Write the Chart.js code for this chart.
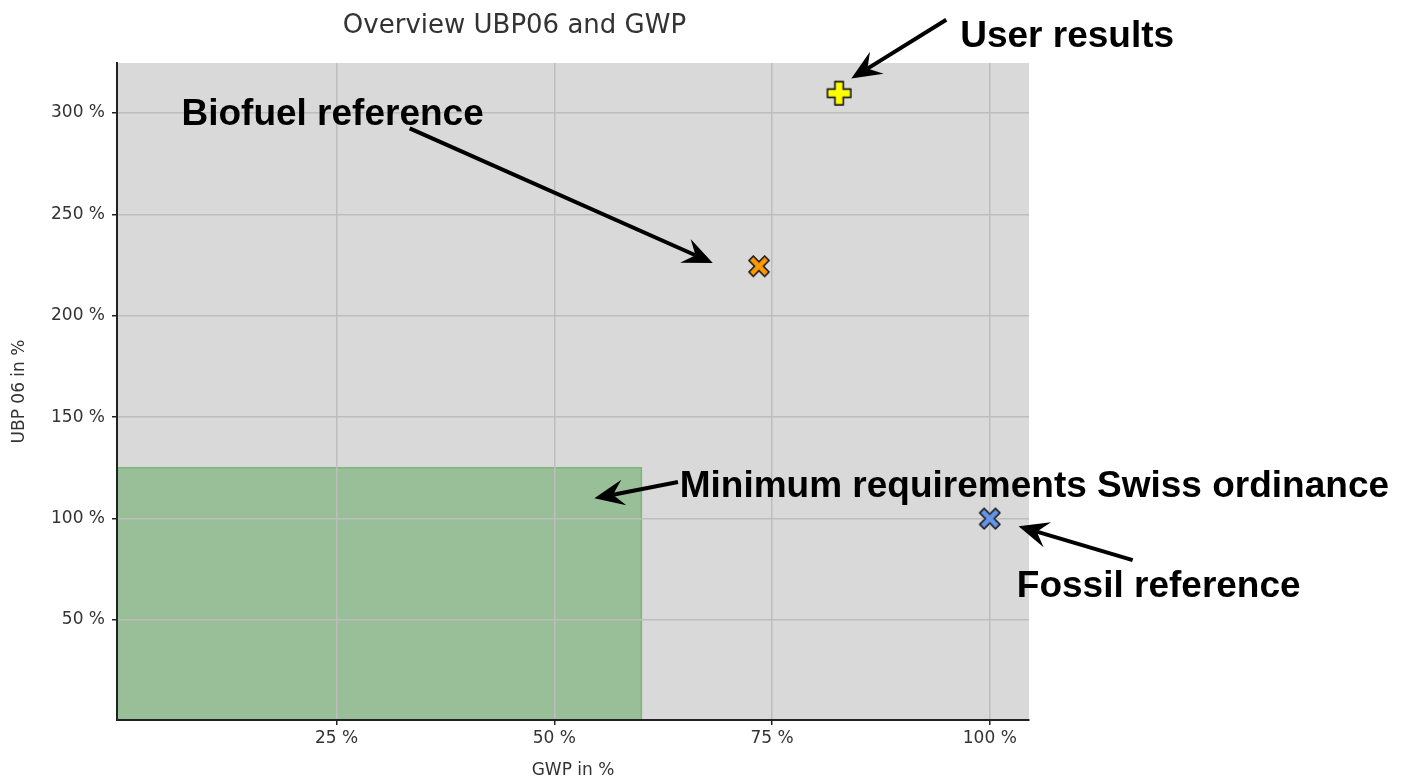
<!DOCTYPE html>
<html>
<head>
<meta charset="utf-8">
<script src="https://cdn.jsdelivr.net/npm/chart.js@4/dist/chart.umd.min.js"></script>
<style>
  html, body { margin: 0; padding: 0; background: #fff; }
</style>
</head>
<body>
<canvas id="myChart" width="1404" height="779"></canvas>
<script>
// axis ticks (percent)
const gwpTicks = [25, 50, 75, 100];
const ubpTicks = [50, 100, 150, 200, 250, 300];

// points: GWP (x) and UBP06 (y), in %
const pointNames = ['User results', 'Biofuel reference', 'Fossil reference'];
const gwpValues = [82.7, 73.5, 100];
const ubpValues = [309.7, 224.4, 100];

// minimum requirements of the Swiss ordinance (area below these limits)
const minGwp = 60;
const minUbp = 125;

// callouts, in data units (text baseline start, arrow tail, arrow tip)
const noteText = ['User results', 'Biofuel reference', 'Minimum requirements Swiss ordinance', 'Fossil reference'];
const noteAt = [[96.6, 332.7], [7.2, 293.9], [64.4, 110.6], [103.1, 61.3]];
const arrowFrom = [[95.0, 345.9], [33.4, 292.4], [64.2, 118.0], [116.4, 79.5]];
const arrowTo = [[84.1, 316.9], [68.2, 226.0], [54.6, 110.0], [103.3, 96.2]];

function marker(fill, size, thick, rotate) {
  const c = document.createElement('canvas');
  c.width = c.height = size + 6;
  const ctx = c.getContext('2d');
  ctx.translate(c.width / 2, c.height / 2);
  if (rotate) ctx.rotate(Math.PI / 4);
  const h = size / 2, t = thick / 2;
  ctx.beginPath();
  ctx.moveTo(-t, -h); ctx.lineTo(t, -h); ctx.lineTo(t, -t); ctx.lineTo(h, -t);
  ctx.lineTo(h, t); ctx.lineTo(t, t); ctx.lineTo(t, h); ctx.lineTo(-t, h);
  ctx.lineTo(-t, t); ctx.lineTo(-h, t); ctx.lineTo(-h, -t); ctx.lineTo(-t, -t);
  ctx.closePath();
  ctx.fillStyle = fill;
  ctx.fill();
  ctx.lineWidth = 1.4;
  ctx.strokeStyle = '#222';
  ctx.stroke();
  return c;
}

const markers = [
  marker('#ffff00', 23, 8, false),
  marker('#ff9900', 22, 6, true),
  marker('#6495ed', 22, 6, true)
];

function drawArrow(ctx, x1, y1, x2, y2) {
  const ang = Math.atan2(y2 - y1, x2 - x1);
  const len = 30, wid = 13, notch = 19;
  const bx = x2 - Math.cos(ang) * notch, by = y2 - Math.sin(ang) * notch;
  ctx.beginPath();
  ctx.moveTo(x1, y1);
  ctx.lineTo(bx, by);
  ctx.lineWidth = 4;
  ctx.strokeStyle = '#000';
  ctx.stroke();
  const cx = x2 - Math.cos(ang) * len, cy = y2 - Math.sin(ang) * len;
  const px = -Math.sin(ang) * wid, py = Math.cos(ang) * wid;
  ctx.beginPath();
  ctx.moveTo(x2, y2);
  ctx.lineTo(cx + px, cy + py);
  ctx.lineTo(bx, by);
  ctx.lineTo(cx - px, cy - py);
  ctx.closePath();
  ctx.fillStyle = '#000';
  ctx.fill();
}

const plotBackground = {
  id: 'plotBackground',
  beforeDraw(chart) {
    const { ctx, chartArea: a } = chart;
    ctx.save();
    ctx.fillStyle = '#d9d9d9';
    ctx.fillRect(a.left, a.top, a.right - a.left, a.bottom - a.top);
    ctx.restore();
  },
  afterDraw(chart) {
    const ctx = chart.ctx;
    // markers sit on top of the grid
    chart.getDatasetMeta(1).controller.draw();
    const xs = chart.scales.x, ys = chart.scales.y;
    ctx.save();
    noteText.forEach((t, i) => {
      drawArrow(ctx,
        xs.getPixelForValue(arrowFrom[i][0]), ys.getPixelForValue(arrowFrom[i][1]),
        xs.getPixelForValue(arrowTo[i][0]), ys.getPixelForValue(arrowTo[i][1]));
      ctx.font = 'bold 37px "Liberation Sans", Arial, sans-serif';
      ctx.fillStyle = '#000';
      ctx.textAlign = 'left';
      ctx.textBaseline = 'alphabetic';
      ctx.fillText(t, xs.getPixelForValue(noteAt[i][0]), ys.getPixelForValue(noteAt[i][1]));
    });
    ctx.restore();
  }
};

const tickFont = { family: 'DejaVu Sans', size: 17 };

new Chart(document.getElementById('myChart').getContext('2d'), {
  type: 'scatter',
  data: {
    datasets: [
      {
        label: 'Minimum requirements Swiss ordinance',
        data: [{ x: -0.2, y: 0.7 }, { x: -0.2, y: minUbp }, { x: minGwp, y: minUbp }, { x: minGwp, y: 0.7 }],
        showLine: true,
        fill: 'origin',
        backgroundColor: '#99bf99',
        borderColor: '#7db57d',
        borderWidth: 1.5,
        pointRadius: 0,
        tension: 0
      },
      {
        label: 'Results',
        data: gwpValues.map((v, i) => ({ x: v, y: ubpValues[i], name: pointNames[i] })),
        pointStyle: markers,
        pointRadius: 11
      }
    ]
  },
  options: {
    responsive: false,
    animation: false,
    devicePixelRatio: 1,
    layout: { padding: { left: 0, right: 375, top: 0, bottom: 0 } },
    plugins: {
      legend: { display: false },
      tooltip: { enabled: false },
      title: {
        display: true,
        text: 'Overview UBP06 and GWP',
        color: '#333',
        font: { family: 'DejaVu Sans', size: 26, weight: 'normal', lineHeight: 1.2 },
        padding: { top: 11, bottom: 20.8 }
      }
    },
    scales: {
      x: {
        type: 'linear',
        min: -0.2,
        max: 104.5,
        afterBuildTicks: s => { s.ticks = gwpTicks.map(v => ({ value: v })); },
        afterFit: s => { s.height = 59; },
        grid: { color: '#bdbdbd', lineWidth: 1.5, tickColor: '#222', tickLength: 5, z: 1 },
        border: { color: '#222', width: 2, z: 1 },
        ticks: { callback: v => v + ' %', color: '#333', font: tickFont, padding: 3, maxRotation: 0 },
        title: {
          display: true, text: 'GWP in %', color: '#333',
          font: { family: 'DejaVu Sans', size: 17, lineHeight: 1 },
          padding: { top: 0, bottom: 0 }
        }
      },
      y: {
        type: 'linear',
        min: 0.7,
        max: 324.6,
        afterBuildTicks: s => { s.ticks = ubpTicks.map(v => ({ value: v })); },
        afterFit: s => { s.width = 117; },
        grid: { color: '#bdbdbd', lineWidth: 1.5, tickColor: '#222', tickLength: 5, z: 1 },
        border: { color: '#222', width: 2, z: 1 },
        ticks: { callback: v => v + ' %', color: '#333', font: tickFont, padding: 7 },
        title: {
          display: true, text: 'UBP 06 in %', color: '#333',
          font: { family: 'DejaVu Sans', size: 17, lineHeight: 1 },
          padding: { top: 11, bottom: 0 }
        }
      }
    }
  },
  plugins: [plotBackground]
});
</script>
</body>
</html>
